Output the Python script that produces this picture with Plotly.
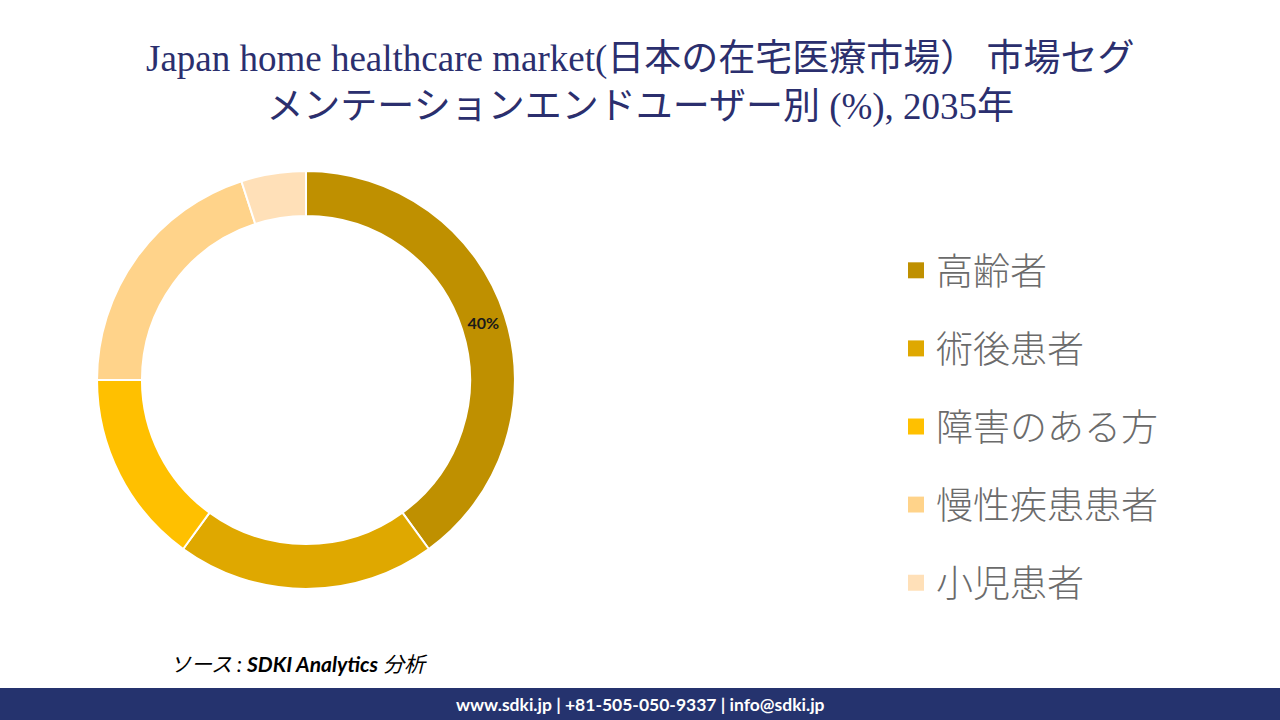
import plotly.graph_objects as go

categories = ["高齢者", "術後患者", "障害のある方", "慢性疾患患者", "小児患者"]
values = [40, 20, 15, 20, 5]
colors = ["#BF9000", "#DFA800", "#FFC000", "#FFD38A", "#FFE0B8"]
shown_labels = ["40%", "", "", "", ""]

title_text = ("Japan home healthcare market(日本の在宅医療市場） 市場セグ<br>"
              "メンテーションエンドユーザー別 (%), 2035年")
source_text = "ソース : <b>SDKI Analytics</b> 分析"
footer_text = "www.sdki.jp | +81-505-050-9337 | info@sdki.jp"

fig = go.Figure()

fig.add_trace(go.Pie(
    labels=categories,
    values=values,
    text=shown_labels,
    textinfo="text",
    textposition="inside",
    insidetextorientation="horizontal",
    textfont=dict(family="Lato, Noto Sans", size=16, color="#1a1a1a", weight="bold"),
    marker=dict(colors=colors, line=dict(color="white", width=2)),
    hole=0.785,
    sort=False,
    direction="clockwise",
    rotation=0,
    showlegend=False,
    domain=dict(x=[0.0758, 0.4023], y=[0.182, 0.7625]),
))

for i, (cat, col) in enumerate(zip(categories, colors)):
    fig.add_trace(go.Scatter(
        x=[None], y=[None], mode="markers", name=cat,
        marker=dict(symbol="square", size=16, color=col),
        legendgroup=f"g{i}", showlegend=True,
    ))

fig.update_layout(
    width=1280, height=720,
    margin=dict(l=0, r=0, t=0, b=0),
    paper_bgcolor="white", plot_bgcolor="white",
    xaxis=dict(visible=False), yaxis=dict(visible=False),
    legend=dict(
        x=0.7, y=0.667, xanchor="left", yanchor="top",
        font=dict(family="Noto Sans CJK JP", size=37, color="#6b6b6b", weight=300),
        tracegroupgap=27, itemsizing="trace", bgcolor="rgba(0,0,0,0)",
    ),
    annotations=[
        dict(text=title_text, x=0.5, y=1 - 83 / 720, xref="paper", yref="paper",
             xanchor="center", yanchor="middle", showarrow=False,
             font=dict(family="Liberation Serif, Noto Sans CJK JP", size=37, color="#2B2F6E")),
        dict(text=source_text, x=0.131, y=0.079, xref="paper", yref="paper",
             xanchor="left", yanchor="middle", showarrow=False,
             font=dict(family="Lato, Noto Sans CJK JP", size=21, color="black", style="italic")),
        dict(text="<b>" + footer_text + "</b>", x=0.5, y=16 / 720, xref="paper", yref="paper",
             xanchor="center", yanchor="middle", showarrow=False,
             font=dict(family="Lato, Noto Sans", size=17.5, color="white")),
    ],
    shapes=[
        dict(type="rect", xref="paper", yref="paper", x0=0, x1=1, y0=0, y1=32 / 720,
             fillcolor="#25336E", line=dict(width=0), layer="below"),
    ],
)

fig.write_html("out.html")
